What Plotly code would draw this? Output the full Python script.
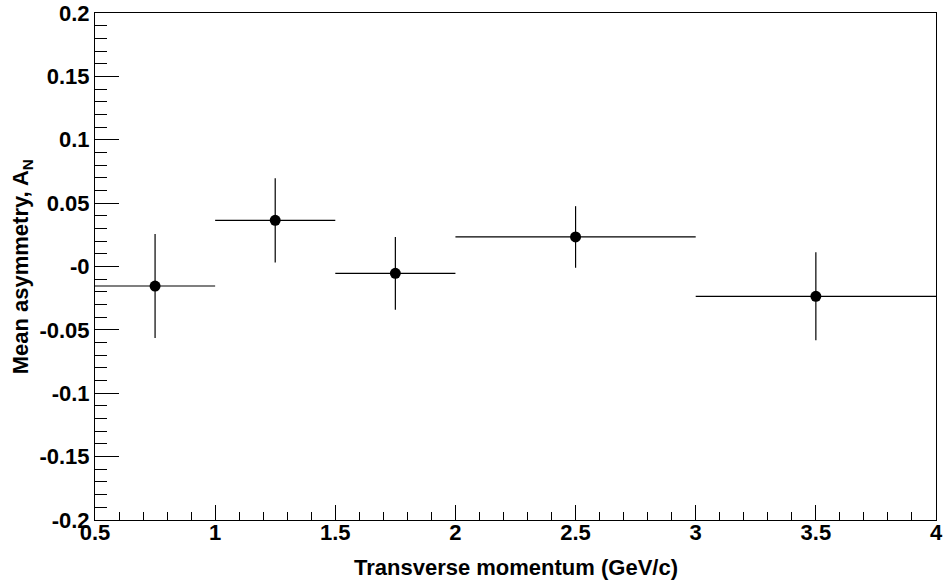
import plotly.graph_objects as go

# Data
pt_centers = [0.75, 1.25, 1.75, 2.5, 3.5]
pt_halfwidth = [0.25, 0.25, 0.25, 0.5, 0.5]
asym = [-0.0154, 0.0364, -0.0054, 0.0233, -0.0235]
asym_err = [0.0410, 0.0333, 0.0287, 0.0243, 0.0347]

y_tickvals = [-0.2, -0.15, -0.1, -0.05, 0.0, 0.05, 0.1, 0.15, 0.2]
y_ticktext = ["-0.2", "-0.15", "-0.1", "-0.05", "-0", "0.05", "0.1", "0.15", "0.2"]
x_tickvals = [0.5, 1, 1.5, 2, 2.5, 3, 3.5, 4]
x_ticktext = ["0.5", "1", "1.5", "2", "2.5", "3", "3.5", "4"]

FONT = "Liberation Sans, Arial, Helvetica, sans-serif"

fig = go.Figure()
fig.add_trace(go.Scatter(
    x=pt_centers, y=asym, mode="markers",
    marker=dict(color="black", size=11, symbol="circle"),
    error_y=dict(type="data", array=asym_err, color="black", thickness=1.2, width=0),
    error_x=dict(type="data", array=pt_halfwidth, color="black", thickness=1.2, width=0),
    showlegend=False,
))

fig.update_layout(
    width=946, height=586,
    margin=dict(l=95, r=10, t=13, b=66),
    paper_bgcolor="white", plot_bgcolor="white",
    font=dict(family=FONT, color="black"),
    xaxis=dict(
        range=[0.5, 4], tickvals=x_tickvals, ticktext=x_ticktext,
        ticks="inside", ticklen=15, tickwidth=1, tickcolor="black",
        minor=dict(ticks="inside", dtick=0.1, tick0=0.5, ticklen=8, tickwidth=1, tickcolor="black"),
        showline=True, linecolor="black", linewidth=1, mirror=True,
        showgrid=False, zeroline=False, automargin=False,
        ticklabelstandoff=-7, ticklabeloverflow="allow",
        tickfont=dict(size=22, family=FONT, weight="bold"),
    ),
    yaxis=dict(
        range=[-0.2, 0.2], tickvals=y_tickvals, ticktext=y_ticktext,
        ticks="inside", ticklen=24, tickwidth=1, tickcolor="black",
        minor=dict(ticks="inside", dtick=0.01, tick0=0, ticklen=12, tickwidth=1, tickcolor="black"),
        showline=True, linecolor="black", linewidth=1, mirror=True,
        showgrid=False, zeroline=False, automargin=False,
        ticklabeloverflow="allow",
        tickfont=dict(size=22, family=FONT, weight="bold"),
    ),
    annotations=[
        dict(text="Transverse momentum (GeV/c)", xref="paper", yref="paper",
             x=0.5, y=-0.094, xanchor="center", yanchor="middle", showarrow=False,
             font=dict(size=22, family=FONT, weight="bold")),
        dict(text="Mean asymmetry, A<sub>N</sub>", xref="paper", yref="paper",
             x=-0.087, y=0.5, xanchor="center", yanchor="middle", showarrow=False,
             textangle=-90, font=dict(size=22, family=FONT, weight="bold")),
    ],
)

fig.write_html("out.html", config={"displayModeBar": False},
               post_script="document.body.style.margin='0';")
